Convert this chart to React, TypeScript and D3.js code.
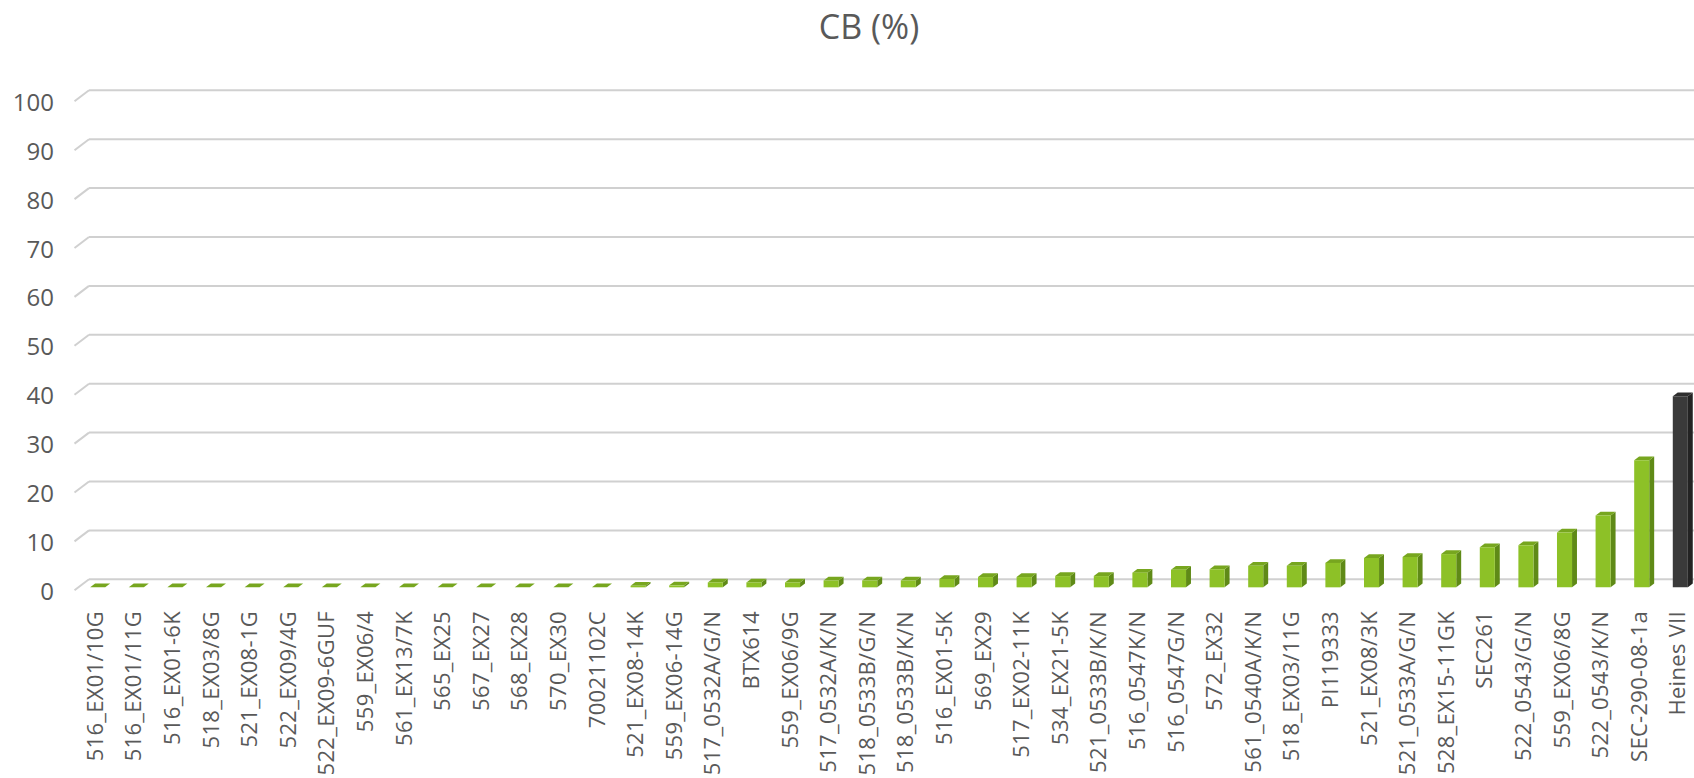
import React from "react";
import * as d3 from "d3";

// CB (%) per line, sorted ascending; last one is the reference variety
const categories = [
  "516_EX01/10G", "516_EX01/11G", "516_EX01-6K", "518_EX03/8G", "521_EX08-1G",
  "522_EX09/4G", "522_EX09-6GUF", "559_EX06/4", "561_EX13/7K", "565_EX25",
  "567_EX27", "568_EX28", "570_EX30", "70021102C", "521_EX08-14K",
  "559_EX06-14G", "517_0532A/G/N", "BTX614", "559_EX06/9G", "517_0532A/K/N",
  "518_0533B/G/N", "518_0533B/K/N", "516_EX01-5K", "569_EX29", "517_EX02-11K",
  "534_EX21-5K", "521_0533B/K/N", "516_0547K/N", "516_0547G/N", "572_EX32",
  "561_0540A/K/N", "518_EX03/11G", "PI119333", "521_EX08/3K", "521_0533A/G/N",
  "528_EX15-11GK", "SEC261", "522_0543/G/N", "559_EX06/8G", "522_0543/K/N",
  "SEC-290-08-1a", "Heines VII",
];

const values = [
  0, 0, 0, 0, 0,
  0, 0, 0, 0, 0,
  0, 0, 0, 0, 0.3,
  0.4, 1.0, 1.0, 1.0, 1.4,
  1.4, 1.4, 1.7, 2.1, 2.1,
  2.3, 2.3, 3.0, 3.6, 3.7,
  4.4, 4.4, 5.0, 6.0, 6.2,
  6.8, 8.2, 8.6, 11.2, 14.7,
  26.0, 39.1,
];

const yTicks = [0, 10, 20, 30, 40, 50, 60, 70, 80, 90, 100];
const controlName = "Heines VII";

const W = 1694;
const H = 778;
const FONT = "'Open Sans', 'Noto Sans', sans-serif";
const TEXT = "#595959";

// oblique depth of the floor (back -> front)
const DX = -14.5;
const DY = 11;
const BAR_FRONT = 0.73;
const BAR_BACK = 0.39;

const green = { front: "#8dc127", side: "#5f8a17", top: "#77a61f" };
const dark = { front: "#3a3a3a", side: "#232323", top: "#2e2e2e" };

export default function App() {
  const x = d3
    .scaleBand<string>()
    .domain(categories)
    .range([89, 89 + categories.length * 38.6])
    .padding(0);

  const y = d3.scaleLinear().domain([0, 100]).range([579.3, 90.3]);

  const pt = (xb: number, v: number, f: number) =>
    `${xb + DX * f},${y(v) + DY * f}`;

  const barW = x.bandwidth() * 0.39;

  return (
    <div style={{ position: "absolute", left: 0, top: 0 }}>
      <svg width={W} height={H} style={{ display: "block", background: "#fff" }}>
        {/* title */}
        <text
          x={869}
          y={39}
          textAnchor="middle"
          fontFamily={FONT}
          fontSize={34}
          fill={TEXT}
        >
          CB (%)
        </text>

        {/* gridlines on back wall + side wall edge */}
        <g>
          {yTicks.map((t) => (
            <g key={t}>
              <line
                x1={89}
                x2={W}
                y1={y(t)}
                y2={y(t)}
                stroke="#d0d0d0"
                strokeWidth={2}
              />
              <line
                x1={89 + DX}
                y1={y(t) + DY}
                x2={89}
                y2={y(t)}
                stroke="#d0d0d0"
                strokeWidth={2}
              />
            </g>
          ))}
        </g>

        {/* y axis labels */}
        <g fontFamily={FONT} fontSize={24} fill={TEXT}>
          {yTicks.map((t) => (
            <text
              key={t}
              x={54}
              y={y(t) + DY}
              textAnchor="end"
              dominantBaseline="central"
            >
              {t}
            </text>
          ))}
        </g>

        {/* 3d columns */}
        <g>
          {categories.map((c, i) => {
            const v = values[i];
            const col = c === controlName ? dark : green;
            const cx = (x(c) as number) + x.bandwidth() / 2;
            const l = cx - barW / 2;
            const r = cx + barW / 2;
            return (
              <g key={c}>
                <polygon
                  points={[pt(r, 0, BAR_FRONT), pt(r, 0, BAR_BACK), pt(r, v, BAR_BACK), pt(r, v, BAR_FRONT)].join(" ")}
                  fill={col.side}
                />
                <polygon
                  points={[pt(l, v, BAR_FRONT), pt(r, v, BAR_FRONT), pt(r, v, BAR_BACK), pt(l, v, BAR_BACK)].join(" ")}
                  fill={col.top}
                />
                <polygon
                  points={[pt(l, 0, BAR_FRONT), pt(r, 0, BAR_FRONT), pt(r, v, BAR_FRONT), pt(l, v, BAR_FRONT)].join(" ")}
                  fill={col.front}
                />
              </g>
            );
          })}
        </g>

        {/* category labels */}
        <g fontFamily={FONT} fontSize={22} fill={TEXT} letterSpacing={0.3}>
          {categories.map((c) => {
            const cx = (x(c) as number) + x.bandwidth() / 2 + DX;
            return (
              <text
                key={c}
                transform={`translate(${cx},611) rotate(-90)`}
                textAnchor="end"
                dominantBaseline="central"
              >
                {c}
              </text>
            );
          })}
        </g>
      </svg>
    </div>
  );
}
